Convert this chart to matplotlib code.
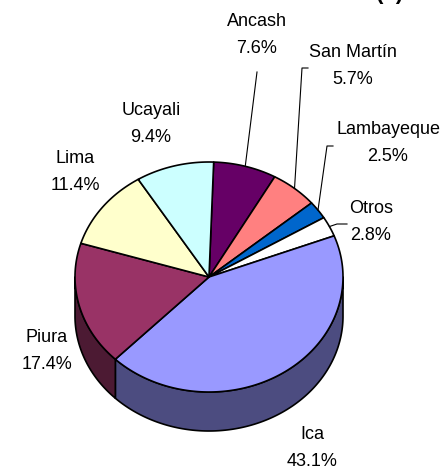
import matplotlib
matplotlib.use("Agg")
import matplotlib.pyplot as plt
from matplotlib.patches import Polygon
import numpy as np

plt.rcParams["font.family"] = ["Liberation Sans", "DejaVu Sans"]

regions = ["Ancash", "San Martín", "Lambayeque", "Otros", "Ica", "Piura", "Lima", "Ucayali"]
shares = [7.6, 5.7, 2.5, 2.8, 43.1, 17.4, 11.4, 9.4]
top_colors = ["#660066", "#FF8080", "#0066CC", "#FFFFFF", "#9999FF", "#993366", "#FFFFCC", "#CCFFFF"]
side_colors = ["#330033", "#804040", "#003366", "#808080", "#4C4C80", "#4C1A33", "#80805F", "#668080"]

# pie geometry in pixels (y grows downwards)
cx, cy, rx, ry, depth = 209, 277, 134, 115, 39
start = 2.0


def pt(t):
    r = np.radians(t)
    return cx + rx * np.sin(r), cy - ry * np.cos(r)


def arc(a0, a1, dy=0.0):
    ts = np.linspace(a0, a1, max(int(abs(a1 - a0)) * 2, 2))
    xs, ys = pt(ts)
    return np.column_stack([xs, ys + dy])


fig = plt.figure(figsize=(4.42, 4.72), dpi=100)
ax = fig.add_axes([0, 0, 1, 1])
ax.set_xlim(0, 442)
ax.set_ylim(472, 0)
ax.axis("off")

tot = sum(shares)
bounds = start + np.concatenate([[0], np.cumsum(shares)]) / tot * 360.0

# side walls (front half only)
for i in range(len(shares)):
    lo, hi = max(bounds[i], 90), min(bounds[i + 1], 270)
    if hi <= lo:
        continue
    top = arc(lo, hi)
    bot = arc(hi, lo, depth)
    ax.add_patch(Polygon(np.vstack([top, bot]), closed=True, facecolor=side_colors[i],
                         edgecolor="black", lw=1.2, joinstyle="round"))

# top faces
for i in range(len(shares)):
    pts = np.vstack([[cx, cy], arc(bounds[i], bounds[i + 1])])
    ax.add_patch(Polygon(pts, closed=True, facecolor=top_colors[i],
                         edgecolor="black", lw=1.2, joinstyle="round"))

# labels: (x, y of text center, leader start points)
labels = {
    "Ancash": (257, 35, [(257, 72)]),
    "San Martín": (353, 66, [(308, 68), (302, 68)]),
    "Lambayeque": (388, 143, [(333, 146), (327, 146)]),
    "Otros": (371, 222, [(347, 224), (337, 224)]),
    "Ica": (312, 448, None),
    "Piura": (47, 351, None),
    "Lima": (75, 172, None),
    "Ucayali": (151, 124, None),
}

for i, name in enumerate(regions):
    x, y, lead = labels[name]
    ax.text(x, y, f"{name}\n{shares[i]:.1f}%", ha="center", va="center",
            fontsize=13, linespacing=1.75, color="black")
    if lead:
        mx, my = pt((bounds[i] + bounds[i + 1]) / 2)
        xs = [p[0] for p in lead] + [mx]
        ys = [p[1] for p in lead] + [my]
        ax.plot(xs, ys, color="black", lw=0.8)

ax.text(390, -1, "(b)", ha="center", va="baseline", fontsize=16, fontweight="bold")

fig.savefig("out.png", dpi=100)
